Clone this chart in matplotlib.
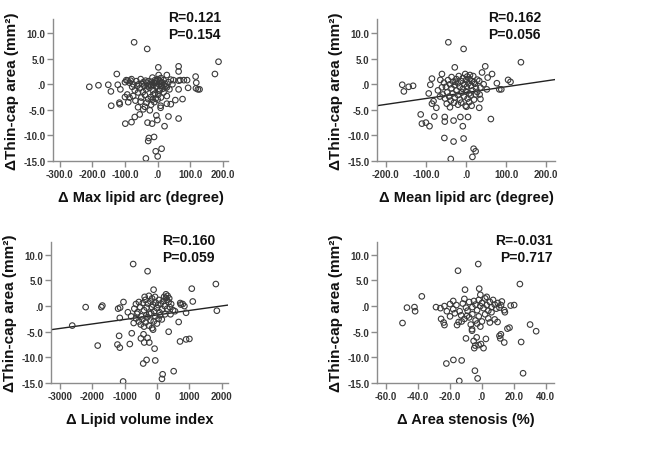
"""Four SPSS-style scatter panels: change in thin-cap area vs plaque changes."""
import matplotlib

matplotlib.use("Agg")
import matplotlib.pyplot as plt
from matplotlib.ticker import FixedLocator, FuncFormatter

plt.rcParams["font.family"] = ["Liberation Sans", "DejaVu Sans"]

# --- data -------------------------------------------------------------------
Y_LABEL = "\u0394Thin-cap area (mm\u00b2)"

max_arc_x = [
    -72, -32, 186, 175, 64, 2, -125, -209, -181, -151, -143, -122, -114, -142, -117, -116,
    -99, -80, -70, -55, -27, -29, -11, -36, -6, 12, 0, 21, 33, 64, -1, -17, -31, -4, 9, 9,
    28, 40, 54, 76, 116, 118, 117, 123, 128, 93, 64, 28, 90, 80, 69, 64, 64, 48, 45,
    -100, -92, -83, -96, -86, -80, -75, -65, -58, -52, -48, -41, -34, -28, -24, -18, -13,
    -8, -5, 0, 4, 8, 12, 18, 23, 28, 33,
    -93, -86, -75, -68, -60, -50, -39, -29, -21, -13, -6, 2, 10, 18, 28, -60, -44, -39,
    -24, -100, -90, -70, -55, -45, -35, -25, -15, -5, 5, 15, 25, -10, 0, -20,
    -62, -37, -20, -10, -2, 6, 14, 20, -30, -44, -16, 3, -4, 10, -78, -52, -34, -8, 7,
    -16, 36, 40,
]
max_arc_y = [
    8.2, 6.9, 4.4, 2.0, 3.5, 3.3, 2.0, -0.5, -0.2, -0.1, -1.4, -0.1, -1.0, -4.2, -3.6, -3.9,
    -7.7, -7.4, -6.4, -5.9, -10.5, -11.1, -10.3, -14.5, -13.1, -12.6, -14.1, -8.2, -6.3,
    -6.7, -7.0, -7.7, -7.5, -6.1, -4.2, -4.6, -3.8, -3.9, -3.1, -2.9, 1.5, 0.3, -0.8, -1.0,
    -1.0, -0.7, 2.5, 1.8, 0.8, 0.8, 0.8, 0.7, -1.0, 0.8, 0.0,
    0.4, 0.7, 0.7, 0.8, 0.3, 1.0, 0.0, 0.6, 0.0, 1.0, 0.1, -0.3, 0.3, 0.6, 0.0, 0.5, -0.2,
    0.8, 0.3, 1.0, 0.0, 0.5, -0.3, 0.8, 0.1, -0.6, 0.4,
    -2.0, -2.6, -2.3, -3.2, -1.6, -2.6, -2.1, -2.9, -2.5, -2.0, -2.8, -2.0, -2.6, -1.6,
    -2.3, -4.5, -4.9, -4.4, -5.1, -2.5, -3.5, -1.2, -0.8, -1.5, -1.0, -0.7, -1.2, -0.5,
    -1.3, -0.9, -0.4, -3.5, -3.0, -4.0,
    -0.3, 0.7, -0.2, 0.2, -0.4, 0.7, 0.3, -0.2, -0.4, 0.4, 1.3, 1.8, 0.6, 1.2, -0.5, -3.4,
    -3.6, -1.8, -1.0, -3.0, -1.0, 0.9,
]

mean_arc_x = [
    -44, -6, 137, -28, 48, 40, 65, 54, 105, 111, 77, 83, 88, -159, -155, -143, -132, -113,
    -110, -100, -91, -79, -53, -53, -31, -8, -14, 5, 1, -1, -54, -31, -6, -38, 16, 19, 24,
    62, -85, -60, -64, -89, -93, -85, -74, -81, 33, 36, 44, 52, 34, 36, 33,
    -55, -50, -45, -40, -36, -32, -28, -24, -20, -16, -12, -8, -4, 0, 3, 6, 9, 12, 15, 18,
    22, 25, 28,
    -58, -52, -47, -42, -38, -33, -28, -24, -20, -15, -10, -5, 0, 4, 8, 12, 16, 20, 24, 28,
    -65, -70, -48, -40, -30, -20, -12, 8, 14, -60, -36, -18, -2, 10, 20, -8, 2, -26,
]
mean_arc_y = [
    8.2, 6.9, 4.3, 3.3, 3.5, 2.3, 2.0, 1.3, 0.85, 0.46, 0.2, -1.0, -1.0, -0.1, -1.4, -0.5,
    -0.3, -5.9, -7.7, -7.5, -8.2, -6.3, -6.4, -7.3, -7.1, -8.2, -6.4, -6.4, -4.4, -4.2,
    -10.5, -11.2, -10.6, -14.6, -14.2, -12.6, -13.1, -6.8, 1.1, 2.0, 0.85, -0.1, -1.8,
    -3.8, -4.6, -3.3, 0.65, -0.65, 0.0, -1.0, -2.0, -2.9, -4.6,
    0.3, -0.5, 0.8, 0.0, -0.8, 0.5, -0.2, 1.0, 0.2, -0.5, 0.6, 1.2, 0.0, 0.8, 1.5, 0.2, 1.0,
    -0.3, 0.6, 1.6, 0.1, -0.8, 0.9,
    -2.0, -2.8, -1.6, -2.4, -3.2, -1.8, -2.6, -1.2, -2.1, -3.0, -1.6, -2.4, -1.4, -2.8,
    -1.8, -2.2, -1.2, -3.0, -2.0, -1.5,
    -2.4, -1.2, -3.8, -4.5, -3.6, -4.0, -3.6, -3.5, -4.2, -0.6, 1.4, 1.6, 2.0, 1.8, 0.4,
    -0.9, -0.5, 0.5,
]

volume_x = [
    -736, -290, 1824, 1078, -104, 1109, 1855, -2207, -1720, -1690, -2622, -1834, -1223,
    -1150, -1171, -1150, -1202, -1140, -1036, -1047, -840, -780, -497, -394, -290, -238,
    -415, -425, -321, -52, 176, 155, 518, -73, 363, 715, 902, 1005, 673, 902, 798, 850,
    280, 330, 720, 740,
    -700, -650, -600, -560, -520, -480, -440, -400, -360, -320, -280, -240, -200, -160,
    -120, -80, -40, 0, 40, 80, 120, 160, 200, 240, 280, 320, 360, 400, 440, 500, 560,
    -650, -560, -500, -450, -400, -350, -300, -250, -200, -150, -100, -50, 0, 50, 100, 150,
    250, -620, -380, -250, -150, -60, 60, 220, 300, 380, 420, -180, -330, -120, -720, -800,
    -900,
]
volume_y = [
    8.2, 6.8, 4.3, 3.4, 3.2, 0.9, -0.9, -0.2, -0.2, 0.1, -3.8, -7.7, -7.5, -8.1, -5.8,
    -2.3, -0.5, -0.3, 0.8, -14.7, -7.4, -5.3, -6.3, -7.1, -6.2, -7.1, -5.5, -11.2, -10.5,
    -10.6, -13.3, -14.2, -12.7, -8.3, -5.0, -6.9, -6.5, -6.4, -3.1, -1.3, 0.4, 0.0, 2.3,
    2.0, 0.6, 0.3,
    -0.5, 0.4, -1.2, 0.8, -0.2, -2.0, 0.6, -0.8, 1.2, -0.3, 0.5, -1.5, 0.9, -0.2, 0.3,
    -1.0, 0.7, -0.4, 0.2, -1.2, 0.5, -0.6, 1.0, 0.0, 1.6, -0.5, 0.8, -0.2, 0.4, -0.8, -1.0,
    -2.4, -3.0, -3.6, -2.6, -4.0, -3.2, -2.2, -3.8, -2.8, -4.3, -3.0, -2.0, -3.4, -2.5,
    -1.8, -2.6, -1.6, -1.5, 1.8, 2.0, 1.5, 1.8, 1.2, 1.8, 1.2, 1.5, -1.6, -1.4, -1.8, -4.6,
    -3.3, -2.0, -1.2,
]

stenosis_x = [
    -2.3, -15, 23.8, -10.6, -1.7, -37.7, -47, -42.3, -41.9, -49.8, -28.8, -26, -23.5,
    -25.6, -24, -23.5, -22.3, -17.9, -12.7, -14.2, -4.4, -2.7, 25.8, 24.6, 30.2, 34, 20.2,
    18, 12.5, 14, 14.4, 16, 17.3, 14, 11, 11.5, 11.9, 9.8, -10, -5.2, -3.3, 2.5, -4.8,
    -4.2, -2.1, -0.6, 1, -6.2, -6.2, -15.6, -14.6, -12.7, -11, -9.4,
    -20, -18, -16, -14, -12, -10, -8, -6, -5, -4, -3, -2, -1, 0, 1, 2, 3, 4, 5, 6, 7, 8, 9,
    10, 11, 12, -20, -17, -8, -6, -4, -2, 0, 2, 4, 6, 8, -7, -3, -1, -18, -22, -11, -1, 3,
    5, -13, -9,
]
stenosis_y = [
    8.2, 6.9, 4.3, 3.2, 3.4, 1.9, -0.3, -0.2, -1.0, -3.3, -0.2, -0.4, 0.0, -2.5, -3.2,
    -3.7, -11.2, -10.5, -10.6, -14.6, -12.6, -14.1, -13.1, -7.0, -3.6, -4.9, 0.2, 0.1,
    0.9, -0.8, -1.2, -4.4, -4.2, -7.1, -5.8, -6.3, -5.5, -3.1, -6.3, -6.8, -6.1, -6.4,
    -8.2, -7.7, -7.6, -7.4, -8.2, -4.5, -4.8, -3.7, -3.1, -3.0, -2.5, -1.9,
    0.4, -0.6, 0.2, -1.0, 0.5, -0.3, 0.8, -0.2, 1.0, 0.3, -0.8, 1.2, 0.0, 0.6, -0.4, 1.5,
    0.2, -0.9, 0.8, -0.2, 1.2, 0.3, -0.5, 0.6, -0.3, 0.2, -2.0, -1.4, -2.2, -1.6, -2.8,
    -2.0, -3.0, -1.6, -2.4, -1.2, -2.6, -3.6, -3.4, -4.0, 1.0, -1.0, 1.4, 2.2, 1.8, -3.2,
    -1.8, -0.9,
]

# fit lines: (intercept, slope)
mean_arc_fit = (-1.64, 0.0115)
volume_fit = (-1.73, 0.000876)

y_ticks = [10, 5, 0, -5, -10, -15]

PANELS = [
    dict(x=max_arc_x, y=max_arc_y, fit=None, xlabel="\u0394 Max lipid arc (degree)",
         xticks=[-300, -200, -100, 0, 100, 200], xlim=(-320, 215), ylim=(-15, 12.75),
         fmt="spss", stats=("R=0.121", "P=0.154"), box=(53, 20, 228, 162), tx=0.96),
    dict(x=mean_arc_x, y=mean_arc_y, fit=mean_arc_fit, xlabel="\u0394 Mean lipid arc (degree)",
         xticks=[-200, -100, 0, 100, 200], xlim=(-222, 222), ylim=(-15, 12.75),
         fmt="spss", stats=("R=0.162", "P=0.056"), box=(377, 20, 555, 162), tx=0.921),
    dict(x=volume_x, y=volume_y, fit=volume_fit, xlabel="\u0394 Lipid volume index",
         xticks=[-3000, -2000, -1000, 0, 1000, 2000], xlim=(-3280, 2200), ylim=(-15, 12.5),
         fmt="int", stats=("R=0.160", "P=0.059"), box=(51, 243, 228, 384), tx=0.927),
    dict(x=stenosis_x, y=stenosis_y, fit=None, xlabel="\u0394 Area stenosis (%)",
         xticks=[-60, -40, -20, 0, 20, 40], xlim=(-65.8, 45.2), ylim=(-15, 12.5),
         fmt="spss", stats=("R=-0.031", "P=0.717"), box=(377, 243, 554, 384), tx=0.994),
]

W, H = 646, 456
SPINE = "#8c8c8c"


def spss_fmt(v, _pos=None):
    if abs(v) < 1e-9:
        return ".0"
    return f"{v:.1f}"


def int_fmt(v, _pos=None):
    return f"{v:.0f}"


def main():
    fig = plt.figure(figsize=(W / 100, H / 100), dpi=100)
    for p in PANELS:
        l, t, r, b = p["box"]
        ax = fig.add_axes([l / W, 1 - b / H, (r - l) / W, (b - t) / H])
        ax.scatter(p["x"], p["y"], s=16, facecolors="none", edgecolors="#3a3a3a",
                   linewidths=0.8, zorder=3)
        if p["fit"] is not None:
            b0, b1 = p["fit"]
            x0, x1 = p["xlim"]
            ax.plot([x0, x1], [b0 + b1 * x0, b0 + b1 * x1], color="#222222", lw=1.0,
                    zorder=2)
        ax.set_xlim(*p["xlim"])
        ax.set_ylim(*p["ylim"])
        ax.xaxis.set_major_locator(FixedLocator(p["xticks"]))
        ax.yaxis.set_major_locator(FixedLocator(y_ticks))
        ax.xaxis.set_major_formatter(FuncFormatter(spss_fmt if p["fmt"] == "spss" else int_fmt))
        ax.yaxis.set_major_formatter(FuncFormatter(spss_fmt))
        for side in ("top", "right"):
            ax.spines[side].set_visible(False)
        for side in ("left", "bottom"):
            ax.spines[side].set_color(SPINE)
            ax.spines[side].set_linewidth(1.0)
        ax.tick_params(direction="out", length=4, width=1.0, color=SPINE, pad=1.5,
                       labelsize=7, labelcolor="#333333")
        for lab in ax.get_xticklabels() + ax.get_yticklabels():
            lab.set_fontweight("bold")
        ax.set_xlabel(p["xlabel"], fontsize=10.5, fontweight="bold", labelpad=8,
                      color="#111111")
        ax.set_ylabel(Y_LABEL, fontsize=11, fontweight="bold", labelpad=3,
                      color="#111111")
        ax.text(p["tx"], 1.014, p["stats"][0], transform=ax.transAxes, ha="right",
                va="center", fontsize=10, fontweight="bold", color="#111111")
        ax.text(p["tx"], 0.894, p["stats"][1], transform=ax.transAxes, ha="right",
                va="center", fontsize=10, fontweight="bold", color="#111111")
        ax.patch.set_alpha(0)

    fig.savefig("out.png", dpi=100)


if __name__ == "__main__":
    main()
